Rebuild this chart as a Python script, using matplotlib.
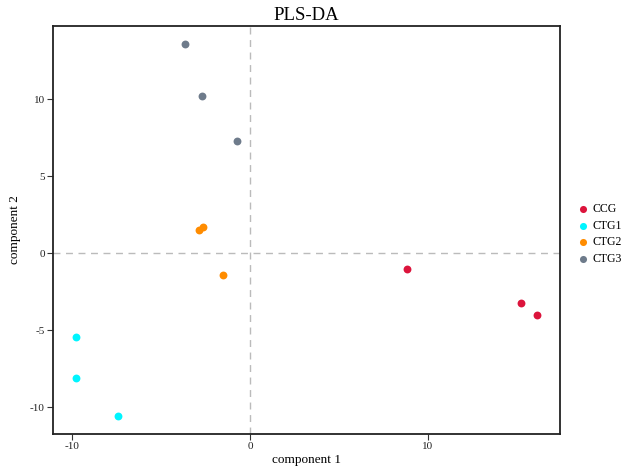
import matplotlib
matplotlib.use("Agg")
import matplotlib.pyplot as plt

plt.rcParams['font.family'] = ['Liberation Serif', 'DejaVu Serif']
plt.rcParams['axes.unicode_minus'] = False

groups = ["CCG", "CTG1", "CTG2", "CTG3"]
colors = ["#DC143C", "#00F5FF", "#FF8C00", "#6E7B8B"]
comp1 = {
    "CCG": [8.84, 15.25, 16.15],
    "CTG1": [-9.79, -9.79, -7.43],
    "CTG2": [-2.64, -2.87, -1.52],
    "CTG3": [-3.66, -2.70, -0.73],
}
comp2 = {
    "CCG": [-1.04, -3.25, -4.03],
    "CTG1": [-5.45, -8.12, -10.58],
    "CTG2": [1.69, 1.49, -1.43],
    "CTG3": [13.57, 10.19, 7.27],
}
xticks = [-10, 0, 10]
yticks = [-10, -5, 0, 5, 10]

fig = plt.figure(figsize=(6.3, 4.67), dpi=100)
ax = fig.add_axes([53/630, 1-434/467, (560-53)/630, (434-26)/467])

for g, c in zip(groups, colors):
    ax.scatter(comp1[g], comp2[g], s=32, color=c, label=g, zorder=3, linewidths=0)

ax.axhline(0, color="#BBBBBB", ls=(0, (5, 4)), lw=1, zorder=1)
ax.axvline(0, color="#BBBBBB", ls=(0, (5, 4)), lw=1, zorder=1)

ax.set_xlim(-11.09, 17.45)
ax.set_ylim(-11.75, 14.74)
ax.set_xticks(xticks)
ax.set_yticks(yticks)
ax.tick_params(axis='both', labelsize=8, direction='out', length=4, width=0.8,
               color="#333333", labelcolor="#222222", pad=2)
for s in ax.spines.values():
    s.set_linewidth(1.3)
    s.set_color("#222222")
ax.set_xlabel("component 1", fontsize=9.5, labelpad=2)
ax.set_ylabel("component 2", fontsize=9.5, labelpad=6)
ax.set_title("PLS-DA", fontsize=13.5, pad=4)

leg = ax.legend(loc="center left", bbox_to_anchor=(1.01, 0.49), frameon=False,
                fontsize=8.5, handletextpad=0.2, labelspacing=0.4, markerscale=0.9,
                handlelength=1.2)

fig.savefig("out.png", dpi=100)
